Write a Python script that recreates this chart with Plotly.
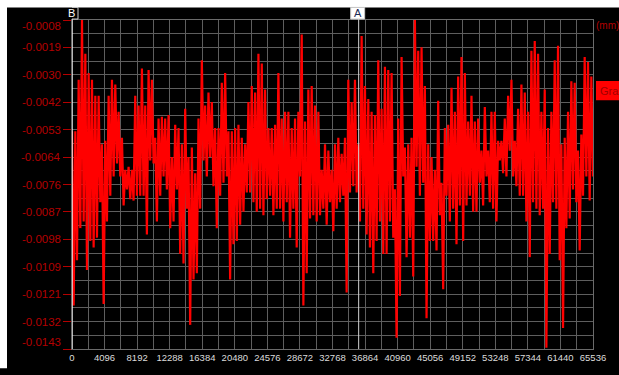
import numpy as np
import plotly.graph_objects as go

# Peak envelope of the displacement trace: one (upper, lower) pair per block, in micrometres
upper_um = [
    -5.37, -5.37, -3.25, -0.80, -2.19, -2.98, -3.25, -3.91, -3.91, -5.90, -5.76,
    -3.91, -3.25, -3.45, -4.57, -5.63, -6.95, -6.82, -6.95, -3.91, -4.31, -2.79,
    -4.31, -2.85, -3.25, -5.63, -4.84, -4.77, -4.84, -4.70, -6.42, -5.10, -5.23,
    -5.90, -4.44, -6.42, -6.03, -7.09, -4.84, -2.45, -4.31, -3.78, -4.17, -5.23,
    -5.23, -3.38, -2.98, -5.37, -5.37, -5.23, -5.10, -5.63, -5.90, -4.17, -3.51,
    -3.78, -2.19, -2.59, -3.65, -5.23, -5.23, -5.10, -2.98, -4.84, -4.57,
    -4.57, -5.23, -4.84, -4.57, -1.40, -4.97, -3.65, -3.51, -4.31, -4.57, -6.95,
    -5.90, -6.16, -6.95, -5.90, -5.63, -6.29, -5.63, -3.25, -4.17, -3.25, -5.90,
    -1.46, -3.51, -4.04, -4.57, -4.70, -2.45, -4.44, -2.72, -2.85, -2.98,
    -7.75, -4.84, -2.32, -6.03, -5.90, -5.63, -0.80, -2.06, -1.92, -3.51, -5.90,
    -6.42, -6.95, -4.11, -7.48, -5.23, -5.10, -3.58, -4.57, -3.12, -2.32, -2.98,
    -4.97, -3.91, -4.97, -4.84, -6.16, -4.37, -6.16, -4.57, -4.57, -5.76,
    -5.76, -4.84, -3.91, -3.25, -5.76, -4.44, -3.45, -3.78, -4.57, -2.06, -1.66,
    -2.19, -4.57, -3.65, -5.23, -4.57, -2.45, -1.86, -5.90, -5.63, -4.57, -3.31,
    -3.38, -6.16, -5.50, -2.32, -2.52, -3.12,
]
lower_um = [
    -12.51, -10.66, -9.34, -9.07, -11.06, -9.87, -10.13, -9.73, -8.28, -12.45, -9.07,
    -8.01, -7.22, -6.69, -7.22, -8.41, -7.75, -8.15, -8.21, -8.01, -8.01, -8.01,
    -9.60, -6.56, -6.69, -9.07, -8.01, -7.22, -7.75, -9.34, -9.07, -7.75, -10.40,
    -10.79, -8.54, -13.31, -11.45, -11.19, -8.54, -6.56, -7.22, -6.42, -7.62, -9.34,
    -8.01, -7.48, -7.22, -11.45, -10.00, -9.87, -9.20, -8.67, -7.88, -7.88, -8.28,
    -8.67, -8.54, -8.81, -8.15, -8.01, -8.81, -8.54, -8.54, -9.07, -8.28,
    -9.73, -8.54, -10.13, -7.22, -12.51, -11.19, -8.94, -8.81, -9.07, -8.81, -8.54,
    -9.20, -8.28, -9.47, -8.54, -8.28, -8.01, -11.98, -7.88, -7.62, -7.88, -9.07,
    -8.54, -9.60, -10.13, -11.19, -9.87, -9.07, -10.40, -10.40, -9.07, -9.73,
    -13.84, -12.12, -7.22, -10.53, -9.73, -11.32, -6.82, -8.01, -7.48, -13.04, -9.87,
    -9.87, -10.26, -8.81, -11.85, -8.01, -9.07, -8.54, -10.00, -8.41, -9.87, -8.41,
    -8.01, -8.67, -8.67, -7.48, -8.41, -7.22, -8.28, -8.54, -9.07, -6.56,
    -7.09, -7.22, -6.16, -7.22, -7.62, -8.01, -8.01, -9.07, -10.53, -8.28, -8.54,
    -8.81, -8.54, -14.25, -10.40, -8.28, -8.54, -10.66, -13.44, -9.34, -8.94, -7.75,
    -8.28, -10.26, -8.01, -7.22, -8.21, -7.22,
]

sample_count = 65536
x_tick_values = list(range(0, sample_count + 1, 4096))
y_tick_labels = ["-0.0008", "-0.0019", "-0.0030", "-0.0042", "-0.0053", "-0.0064",
                 "-0.0076", "-0.0087", "-0.0098", "-0.0109", "-0.0121", "-0.0132",
                 "-0.0143"]
y_top, y_bottom = -0.0008, -0.0143
cursor_b = 0
cursor_a = 36060

# figure geometry (pixels)
W, H = 619, 375
ML, MR, MT, MB = 72, 26, 20, 15
PW, PH = W - ML - MR, H - MT - MB


def px_x(px):
    return (px - ML) / PW


def px_y(py):
    return (H - MB - py) / PH


# zig-zag between block maxima and minima
n = len(upper_um)
w = sample_count / (n - 0.5)
xs = np.empty(2 * n)
ys = np.empty(2 * n)
xs[0::2] = np.arange(n) * w
xs[1::2] = (np.arange(n) + 0.5) * w
ys[0::2] = np.array(upper_um) * 1e-3
ys[1::2] = np.array(lower_um) * 1e-3

RED_TEXT = "#b40000"
GRID = "#5e5e5e"
FONT = "Liberation Sans, Arial, sans-serif"

fig = go.Figure()
fig.add_trace(go.Scatter(x=xs, y=ys, mode="lines",
                         line=dict(color="#ff0000", width=2.2),
                         hoverinfo="skip", name="Graph"))

y_tick_values = np.linspace(y_top, y_bottom, len(y_tick_labels))
y_step = (y_top - y_bottom) / (len(y_tick_labels) - 1)

fig.update_layout(
    width=W, height=H,
    margin=dict(l=ML, r=MR, t=MT, b=MB, pad=0),
    paper_bgcolor="#000000", plot_bgcolor="#000000",
    showlegend=False,
    font=dict(family=FONT),
    xaxis=dict(
        range=[0, sample_count], tickmode="array", tickvals=x_tick_values,
        ticktext=[str(v) for v in x_tick_values],
        showgrid=True, gridcolor=GRID, gridwidth=1,
        minor=dict(tick0=0, dtick=2048, showgrid=True, gridcolor=GRID, gridwidth=1),
        ticks="", tickfont=dict(size=9.5, color="#dcdcdc", family=FONT),
        showline=True, linecolor="#6a6a6a", linewidth=1, mirror=True,
        zeroline=False,
    ),
    yaxis=dict(
        range=[y_bottom, y_top], tickmode="array", tickvals=list(y_tick_values),
        showticklabels=False, ticks="outside", ticklen=8, tickwidth=1,
        tickcolor=RED_TEXT,
        showgrid=True, gridcolor=GRID, gridwidth=1,
        minor=dict(tick0=y_bottom, dtick=y_step / 2, showgrid=True,
                   gridcolor=GRID, gridwidth=1),
        showline=True, linecolor="#6a6a6a", linewidth=1, mirror=True,
        zeroline=False,
    ),
)

annotations = []
for i, (val, lab) in enumerate(zip(y_tick_values, y_tick_labels)):
    shift = 0
    if i == 0:
        shift = -6
    elif i == len(y_tick_labels) - 1:
        shift = 7
    annotations.append(dict(
        x=0, xref="paper", y=val, yref="y", text=lab, showarrow=False,
        xanchor="right", yanchor="middle", xshift=-9, yshift=shift,
        font=dict(size=11.5, color=RED_TEXT, family=FONT)))

annotations += [
    dict(x=px_x(594), xref="paper", y=px_y(26), yref="paper", text="(mm)",
         showarrow=False, xanchor="left", yanchor="middle",
         font=dict(size=10, color=RED_TEXT, family=FONT)),
    dict(x=px_x(598), xref="paper", y=px_y(93), yref="paper", text="Gra",
         showarrow=False, xanchor="left", yanchor="middle",
         font=dict(size=11, color="#a00000", family=FONT)),
    dict(x=cursor_b, xref="x", y=px_y(13), yref="paper", text="B",
         showarrow=False, xanchor="center", yanchor="middle", xshift=-1,
         font=dict(size=11, color="#ffffff", family=FONT)),
    dict(x=cursor_a, xref="x", y=px_y(13), yref="paper", text="A",
         showarrow=False, xanchor="center", yanchor="middle", xshift=-1,
         font=dict(size=11, color="#1c2a55", family=FONT)),
]
fig.update_layout(annotations=annotations)

shapes = [
    # white frame strips along the top and left edges
    dict(type="rect", xref="paper", yref="paper", x0=px_x(-5), x1=px_x(W + 5),
         y0=px_y(7), y1=px_y(-5), fillcolor="#ffffff", line=dict(width=0)),
    dict(type="rect", xref="paper", yref="paper", x0=px_x(-5), x1=px_x(7),
         y0=px_y(H + 5), y1=px_y(-5), fillcolor="#ffffff", line=dict(width=0)),
    # cursor lines
    dict(type="line", xref="x", yref="paper", x0=cursor_b, x1=cursor_b,
         y0=0, y1=px_y(19), line=dict(color="#f4f4f4", width=1.5)),
    dict(type="line", xref="x", yref="paper", x0=cursor_a, x1=cursor_a,
         y0=0, y1=px_y(19), line=dict(color="#d4d4d4", width=1)),
    # cursor labels
    dict(type="rect", xref="x", xsizemode="pixel", xanchor=cursor_b, x0=-9, x1=6,
         yref="paper", y0=px_y(19), y1=px_y(7), fillcolor="#000000",
         line=dict(color="#d0d0d0", width=1)),
    dict(type="rect", xref="x", xsizemode="pixel", xanchor=cursor_a, x0=-8, x1=6,
         yref="paper", y0=px_y(19), y1=px_y(7), fillcolor="#ffffff",
         line=dict(color="#c8c8c8", width=1)),
    # legend swatch
    dict(type="rect", xref="paper", yref="paper", x0=px_x(596), x1=px_x(W + 10),
         y0=px_y(103), y1=px_y(83), fillcolor="#ff0000", line=dict(width=0)),
]
fig.update_layout(shapes=shapes)

fig.write_html("out.html")
